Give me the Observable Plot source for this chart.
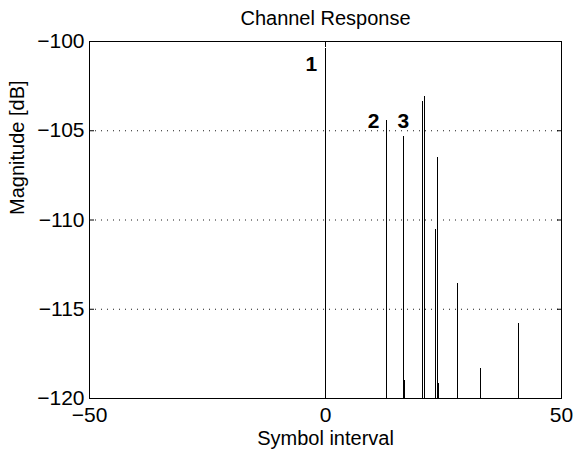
<!DOCTYPE html>
<html>
<head>
<meta charset="utf-8">
<script src="https://cdn.jsdelivr.net/npm/d3@7"></script>
<script src="https://cdn.jsdelivr.net/npm/@observablehq/plot@0.6"></script>
<style>
  html, body { margin: 0; padding: 0; background: #fff; }
  #chart svg { display: block; }
</style>
</head>
<body>
<div id="chart"></div>
<script>
// Channel taps: symbol interval (delay) and magnitude in dB
const tapDelay = [0, 13.0, 16.44, 16.7, 20.47, 20.93, 23.41, 23.81, 23.95, 27.9, 32.94, 40.91];
const tapMagnitude = [-100.4, -104.43, -105.32, -118.99, -103.34, -103.08, -110.53, -106.52, -119.16, -113.53, -118.34, -115.82];

const xTicks = [-50, 0, 50];
const yTicks = [-120, -115, -110, -105, -100];
const gridLevels = [-115, -110, -105];

const tapLabels = ["1", "2", "3"];
const tapLabelX = [-3.0, 10.2, 16.5];
const tapLabelY = [-101.25, -104.45, -104.45];

const titleText = "Channel Response";
const xLabel = "Symbol interval";
const yLabel = "Magnitude [dB]";

const xDomain = [-50, 50];
const yDomain = [-120, -100];

const taps = tapDelay.map((d, i) => ({x: d, y: tapMagnitude[i]}));
const labels = tapLabels.map((t, i) => ({t, x: tapLabelX[i], y: tapLabelY[i]}));
const fmt = d => String(d).replace("-", "\u2212");

const chart = Plot.plot({
  width: 573,
  height: 452,
  marginLeft: 89,
  marginRight: 12,
  marginTop: 41,
  marginBottom: 54,
  style: {fontFamily: "'Liberation Sans', Arial, Helvetica, sans-serif", fontSize: "20px", color: "black", background: "white"},
  x: {domain: xDomain, label: null},
  y: {domain: yDomain, label: null},
  marks: [
    Plot.gridY(gridLevels, {stroke: "black", strokeOpacity: 0.9, strokeDasharray: "1,5"}),
    Plot.ruleX(taps, {x: "x", y1: yDomain[0], y2: "y", stroke: "black", strokeWidth: 1, shapeRendering: "crispEdges"}),
    Plot.frame({stroke: "black", shapeRendering: "crispEdges"}),
    Plot.axisX({anchor: "bottom", ticks: xTicks, tickSize: -5, tickPadding: 14, tickFormat: fmt, fontSize: 21, label: null}),
    Plot.axisX({anchor: "top", ticks: xTicks, tickSize: -5, tickFormat: () => "", label: null}),
    Plot.axisY({anchor: "left", ticks: yTicks, tickSize: -5, tickPadding: 10, tickFormat: fmt, fontSize: 21, label: null}),
    Plot.axisY({anchor: "right", ticks: yTicks, tickSize: -5, tickFormat: () => "", label: null}),
    Plot.text(labels, {x: "x", y: "y", text: "t", fontSize: 21, fontWeight: "bold"}),
    Plot.text([titleText], {frameAnchor: "top", lineAnchor: "middle", dy: -23, fontSize: 20}),
    Plot.text([xLabel], {frameAnchor: "bottom", lineAnchor: "middle", dy: 40, fontSize: 20}),
    Plot.text([yLabel], {frameAnchor: "left", dx: -72, dy: -5, rotate: -90, fontSize: 20})
  ]
});
document.getElementById("chart").appendChild(chart);
</script>
</body>
</html>
